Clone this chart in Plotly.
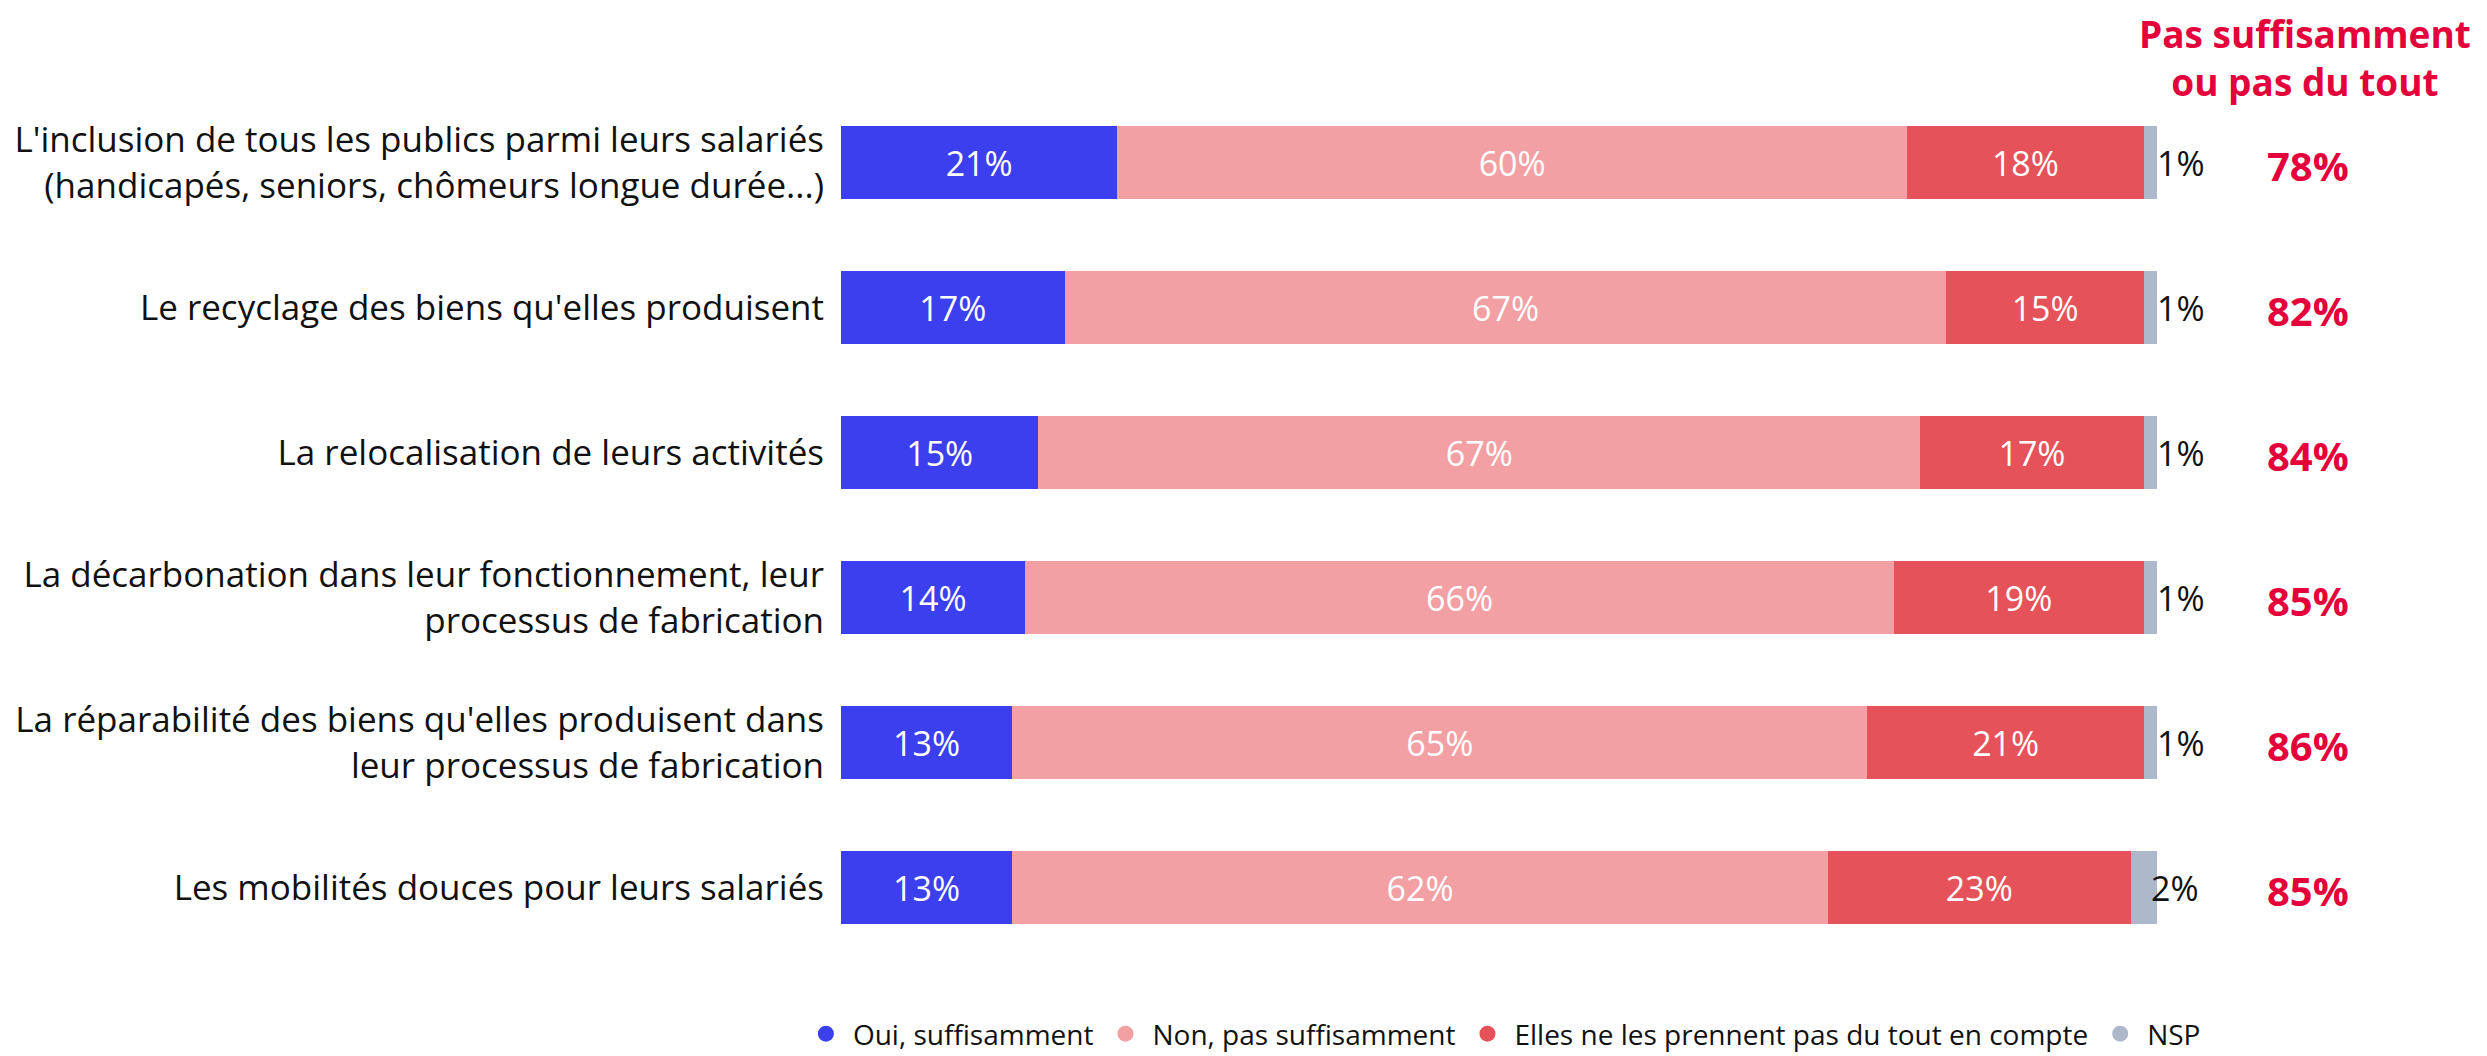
import plotly.graph_objects as go

categories = [
    "L'inclusion de tous les publics parmi leurs salariés<br>(handicapés, seniors, chômeurs longue durée...)",
    "Le recyclage des biens qu'elles produisent",
    "La relocalisation de leurs activités",
    "La décarbonation dans leur fonctionnement, leur<br>processus de fabrication",
    "La réparabilité des biens qu'elles produisent dans<br>leur processus de fabrication",
    "Les mobilités douces pour leurs salariés",
]
oui = [21, 17, 15, 14, 13, 13]
non = [60, 67, 67, 66, 65, 62]
elles = [18, 15, 17, 19, 21, 23]
nsp = [1, 1, 1, 1, 1, 2]
total_pas = [78, 82, 84, 85, 86, 85]

series_names = ["Oui, suffisamment", "Non, pas suffisamment",
                "Elles ne les prennent pas du tout en compte", "NSP"]
colors = ["#3C3FEE", "#F2A0A4", "#E5525A", "#ADB8CB"]
header = "Pas suffisamment<br>ou pas du tout"
accent = "#E4003B"

FONT = "Open Sans, Noto Sans, sans-serif"

fig = go.Figure()
for name, vals, col, show_text in zip(series_names, [oui, non, elles, nsp], colors,
                                       [True, True, True, False]):
    fig.add_trace(go.Bar(
        y=categories, x=vals, name=name, orientation="h",
        marker=dict(color=col, line=dict(width=0)),
        text=[f"{v}%" for v in vals] if show_text else None,
        textposition="inside" if show_text else "none",
        insidetextanchor="middle",
        textfont=dict(color="white", size=34, family=FONT),
        showlegend=False, hoverinfo="skip",
    ))
    fig.add_trace(go.Scatter(
        x=[None], y=[None], mode="markers", name=name,
        marker=dict(symbol="circle", size=16, color=col),
        showlegend=True,
    ))

annotations = []
for cat, a, b, c, d, t in zip(categories, oui, non, elles, nsp, total_pas):
    annotations.append(dict(
        x=a + b + c + d / 2, y=cat, xref="x", yref="y", text=f"{d}%",
        showarrow=False, xanchor="left", xshift=5,
        font=dict(size=34, color="#111111", family=FONT),
    ))
    annotations.append(dict(
        x=1.115, y=cat, xref="paper", yref="y", text=f"<b>{t}%</b>",
        showarrow=False, xanchor="center", yshift=-3,
        font=dict(size=40, color=accent, family=FONT),
    ))
annotations.append(dict(
    x=1.1125, y=1.0377, xref="paper", yref="paper", text=f"<b>{header}</b>",
    showarrow=False, xanchor="center", yanchor="middle",
    font=dict(size=37, color=accent, family=FONT),
))

# page has an 8px body margin: figure is offset by (8, 8)
fig.update_layout(
    width=2479, height=1048,
    barmode="stack", bargap=0.5,
    plot_bgcolor="white", paper_bgcolor="white",
    margin=dict(l=833, r=330, t=82, b=96, autoexpand=False),
    font=dict(family=FONT, color="#111111"),
    xaxis=dict(range=[0, 100], visible=False, fixedrange=True),
    yaxis=dict(autorange="reversed", showgrid=False, showline=False,
               ticks="", ticklabelstandoff=16,
               tickfont=dict(size=35, color="#111111", family=FONT)),
    legend=dict(orientation="h", x=-0.032, xanchor="left", y=-0.085, yanchor="middle",
                font=dict(size=28, color="#111111", family=FONT),
                itemwidth=44, traceorder="normal"),
    annotations=annotations,
    showlegend=True,
)

fig.write_html("out.html")
